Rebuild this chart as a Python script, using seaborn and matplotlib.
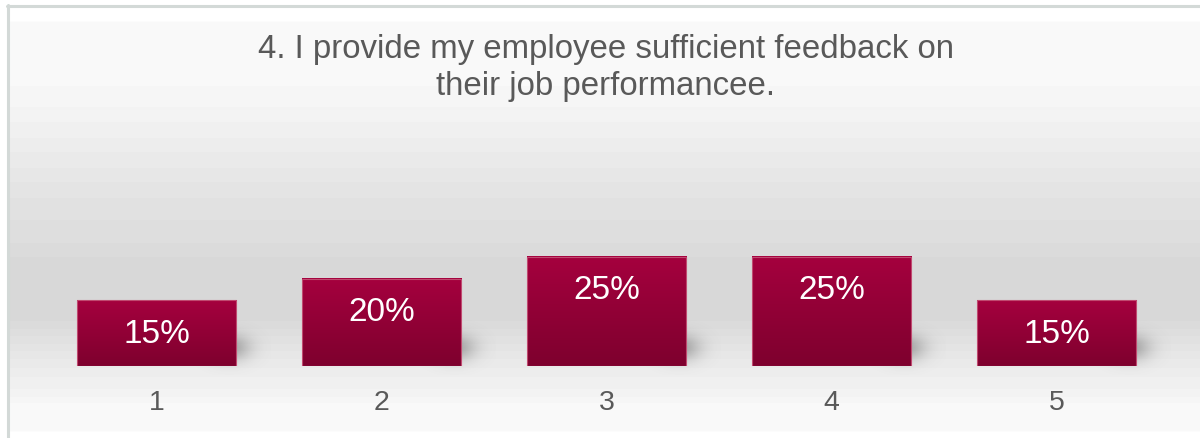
import numpy as np
import matplotlib
matplotlib.use("Agg")
import matplotlib.pyplot as plt
from matplotlib.lines import Line2D
import seaborn as sns

# Survey answer scale and share of respondents per answer (%)
categories = ["1", "2", "3", "4", "5"]
shares = [15, 20, 25, 25, 15]
title = "4. I provide my employee sufficient feedback on\ntheir job performancee."

sns.set_theme(style="white")
plt.rcParams["font.family"] = ["Liberation Sans", "DejaVu Sans"]

W, H, DPI = 1200, 438, 100
fig = plt.figure(figsize=(W / DPI, H / DPI), dpi=DPI)
fig.patch.set_facecolor("white")

# ---- banded grey backdrop (pixel space of the figure) ----
bg = fig.add_axes([0, 0, 1, 1], zorder=0)
bg.set_xlim(0, W)
bg.set_ylim(H, 0)
bg.axis("off")
stops_y = [6, 21, 22, 83, 110, 140, 170, 200, 240, 260, 320, 335, 355, 375, 395, 405, 431, 432, 438]
stops_v = [255, 255, 250, 248, 244, 238, 232, 226, 221, 217, 217, 223, 231, 238, 243, 249, 249, 255, 255]
ys = np.arange(6, 438) + 0.5
vals = np.interp(ys, stops_y, stops_v)
vals = np.round(vals / 3.0) * 3.0
vals = np.clip(vals, 0, 255) / 255.0
grad = np.repeat(vals[:, None], 2, axis=1)
bg.imshow(np.dstack([grad, grad, grad]), extent=[8, W, 438, 6], aspect="auto",
          interpolation="nearest", zorder=0)
border = "#d3d9d7"
bg.add_line(Line2D([7, W], [5.5, 5.5], color=border, lw=2.2, zorder=1))
bg.add_line(Line2D([7.5, 7.5], [5, 438], color=border, lw=2.2, zorder=1))

# ---- bar chart ----
left_px, right_px = 44, 1169
base_px, top_px = 366, 147.5
ax = fig.add_axes([left_px / W, (H - base_px) / H,
                   (right_px - left_px) / W, (base_px - top_px) / H], zorder=2)
ax.patch.set_alpha(0)

sns.barplot(x=categories, y=shares, width=0.707, color="#9b0038", ax=ax,
            saturation=1)
ax.set_xlim(-0.5, len(categories) - 0.5)
ax.set_ylim(0, 50)

top_col = np.array([165, 0, 62]) / 255.0
bot_col = np.array([126, 0, 46]) / 255.0
for p in ax.patches:
    x0, y0 = p.get_x(), p.get_y()
    w, h = p.get_width(), p.get_height()
    # soft drop shadow at the lower right corner
    gx = np.linspace(-1, 1, 120)
    gy = np.linspace(-1, 1, 80)
    GX, GY = np.meshgrid(gx, gy)
    alpha = np.exp(-(GX ** 2 + GY ** 2) * 4.0) * 0.42
    sh = np.zeros((80, 120, 4))
    sh[..., :3] = 0.3
    sh[..., 3] = alpha
    ax.imshow(sh, extent=[x0 + w * 0.7, x0 + w * 1.22, y0 - 2.0, y0 + 10.5],
              aspect="auto", interpolation="bilinear", zorder=1, clip_on=False)
    # vertical crimson gradient inside the bar
    t = np.linspace(0, 1, 100)[:, None]
    col = top_col[None, :] * (1 - t) + bot_col[None, :] * t
    img = np.repeat(col[:, None, :], 2, axis=1)
    ax.imshow(img, extent=[x0, x0 + w, y0, y0 + h], aspect="auto",
              interpolation="bilinear", zorder=2.5)
    p.set_facecolor("none")
    p.set_edgecolor("#c04a70")
    p.set_linewidth(0.8)
    p.set_zorder(3)
    ax.annotate(f"{h:.0f}%", (x0 + w / 2, y0 + h), xytext=(0, -24.5),
                textcoords="offset points", ha="center", va="center",
                color="white", fontsize=24, zorder=4)

ax.set_xlim(-0.5, len(categories) - 0.5)
ax.set_ylim(0, 50)
ax.set_xlabel("")
ax.set_ylabel("")
ax.set_yticks([])
ax.tick_params(axis="x", length=0, pad=17.5, labelsize=20.5, labelcolor="#595959")
for s in ax.spines.values():
    s.set_visible(False)

fig.text(605.5 / W, 1 - 68 / H, title, ha="center", va="center",
         fontsize=23.8, color="#595959", linespacing=1.24)

fig.savefig("out.png", dpi=DPI)
